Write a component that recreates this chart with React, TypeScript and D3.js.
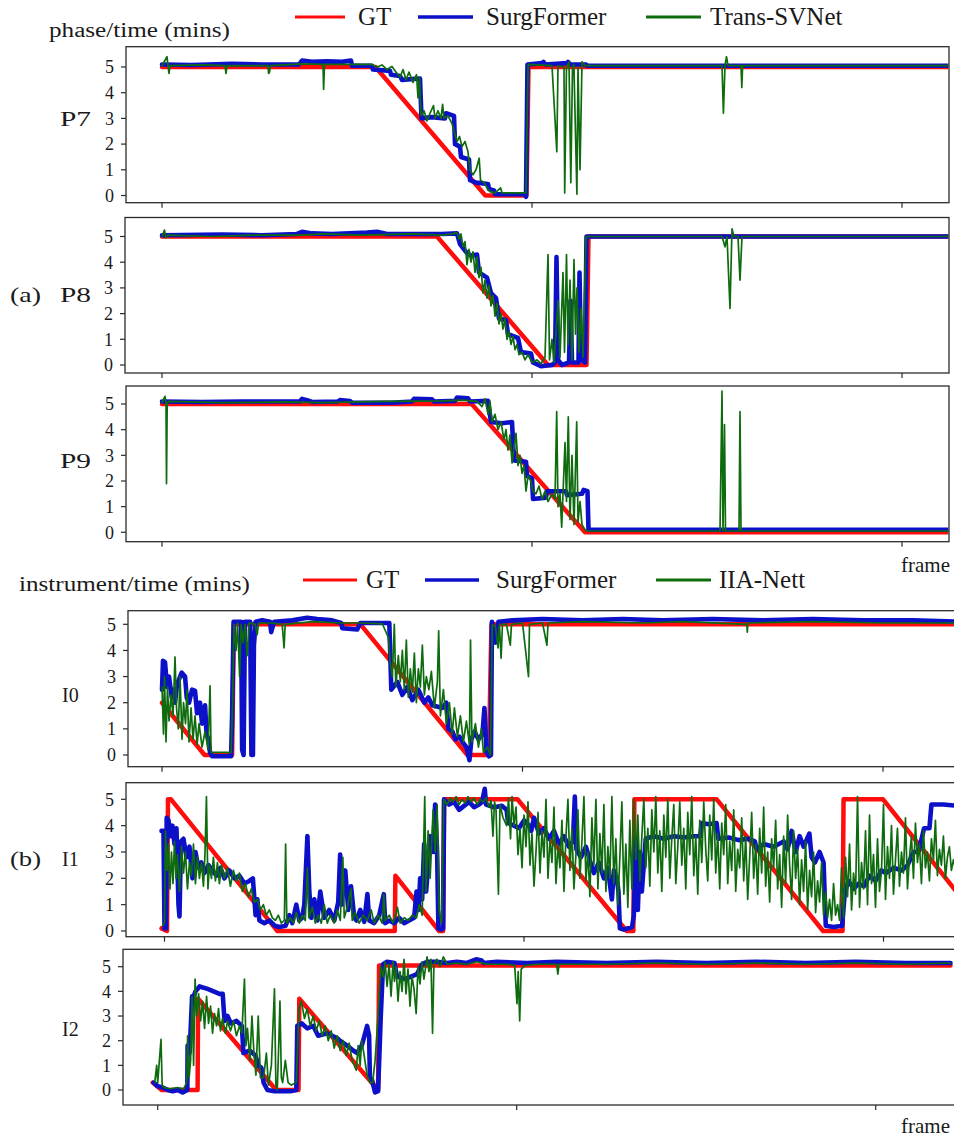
import React from 'react';
import * as d3 from 'd3';

type Pt = [number, number];

// x = frame index, y = remaining time (mins)
// ---------- (a) phase ----------
const gtP7: Pt[] = [[0, 5], [2135, 5], [3233, 0], [3645, 0], [3665, 5], [7870, 5]];
const sfP7: Pt[] = [[0, 5.1], [300, 5.08], [700, 5.12], [1000, 5.1], [1370, 5.1], [1400, 5.25], [1500, 5.2], [1650, 5.22], [1800, 5.2], [1890, 5.25], [1900, 5.05], [2100, 5.05], [2110, 4.9], [2280, 4.85], [2290, 4.7], [2380, 4.65], [2400, 4.5], [2580, 4.55], [2595, 3.0], [2700, 3.05], [2830, 3.0], [2840, 3.2], [2920, 3.1], [2930, 2.0], [2980, 1.9], [2990, 1.5], [3070, 1.4], [3080, 0.6], [3140, 0.5], [3260, 0.45], [3270, 0.25], [3320, 0.2], [3330, 0.05], [3630, 0.05], [3640, -0.05], [3655, 5.1], [3800, 5.15], [3815, 5.2], [3830, 5.1], [4050, 5.15], [4060, 5.2], [4080, 5.1], [4240, 5.1], [4250, 5.05], [7870, 5.05]];
const tsP7: Pt[] = [[0, 5.05], [50, 5.4], [60, 5.05], [70, 4.75], [80, 5.05], [400, 5.08], [630, 5.05], [640, 4.75], [650, 5.05], [1060, 5.05], [1066, 4.75], [1075, 4.8], [1085, 5.05], [1400, 5.12], [1610, 5.1], [1616, 4.13], [1625, 5.1], [1900, 5.1], [2100, 5.1], [2150, 5.0], [2200, 5.08], [2250, 4.9], [2300, 5.02], [2340, 4.8], [2380, 4.6], [2410, 4.9], [2440, 4.5], [2470, 4.8], [2510, 4.4], [2545, 4.7], [2560, 3.8], [2575, 4.6], [2590, 3.1], [2620, 3.3], [2650, 2.9], [2680, 3.2], [2715, 3.5], [2730, 3.0], [2760, 3.3], [2790, 3.0], [2806, 3.55], [2820, 3.0], [2860, 3.1], [2900, 2.8], [2928, 2.4], [2950, 2.1], [2975, 2.3], [3000, 1.9], [3030, 2.1], [3060, 1.7], [3080, 1.0], [3110, 0.8], [3140, 1.0], [3172, 1.45], [3185, 0.6], [3220, 0.5], [3250, 0.3], [3280, 0.15], [3330, 0.1], [3386, 0.3], [3400, 0.1], [3640, 0.1], [3661, 5.1], [3900, 5.05], [3948, 1.7], [3960, 5.05], [4020, 5.0], [4027, 0.1], [4045, 5.0], [4070, 5.2], [4088, 0.5], [4105, 5.0], [4119, 5.1], [4149, 0.05], [4160, 5.0], [4180, 1.0], [4200, 5.2], [4230, 5.05], [5600, 5.05], [5614, 3.2], [5630, 5.05], [5645, 5.4], [5660, 5.05], [5790, 5.05], [5798, 4.2], [5806, 5.05], [7870, 5.05]];

const gtP8: Pt[] = [[0, 5], [2750, 5], [3860, 0], [4245, 0], [4265, 5], [7870, 5]];
const sfP8: Pt[] = [[0, 5.05], [600, 5.08], [1000, 5.05], [1350, 5.1], [1400, 5.18], [1500, 5.12], [1700, 5.1], [2050, 5.15], [2150, 5.18], [2250, 5.1], [2800, 5.1], [2950, 5.12], [2980, 4.7], [3040, 4.4], [3090, 4.25], [3150, 4.3], [3170, 3.6], [3250, 3.4], [3290, 2.8], [3340, 2.6], [3370, 1.8], [3440, 1.75], [3460, 1.2], [3560, 1.05], [3590, 0.5], [3690, 0.45], [3710, 0.1], [3790, -0.05], [3900, 0.0], [3930, 0.1], [3945, 4.2], [3960, 0.2], [4000, 0.0], [4070, 0.1], [4085, 2.5], [4100, 0.1], [4165, 0.1], [4175, 3.6], [4190, 0.2], [4230, 0.1], [4245, 5.0], [7870, 5.0]];
const tsP8: Pt[] = [[0, 5.0], [25, 5.25], [40, 4.95], [60, 5.05], [500, 5.0], [900, 5.05], [1400, 5.05], [1600, 5.1], [2000, 5.05], [2500, 5.1], [2800, 5.05], [2900, 5.1], [2950, 5.15], [2970, 4.9], [2990, 5.1], [3010, 4.6], [3030, 4.8], [3050, 3.9], [3070, 4.5], [3090, 4.0], [3110, 4.4], [3130, 3.6], [3150, 4.2], [3170, 3.4], [3190, 3.8], [3210, 2.8], [3230, 3.3], [3250, 2.6], [3270, 3.1], [3290, 2.3], [3310, 2.7], [3330, 1.9], [3350, 2.4], [3370, 1.6], [3390, 2.0], [3410, 1.4], [3430, 1.8], [3450, 1.0], [3470, 1.3], [3490, 0.8], [3510, 1.1], [3530, 0.6], [3550, 0.8], [3570, 0.4], [3600, 0.5], [3630, 0.2], [3660, 0.4], [3700, 0.1], [3750, 0.2], [3790, 0.05], [3830, 0.3], [3860, 4.3], [3875, 0.2], [3900, 1.0], [3920, 0.1], [3960, 2.5], [3980, 0.3], [4010, 3.6], [4025, 0.5], [4045, 4.3], [4060, 0.8], [4080, 3.3], [4100, 0.2], [4120, 4.1], [4135, 1.2], [4150, 3.0], [4170, 0.5], [4190, 2.2], [4210, 0.3], [4240, 5.0], [5600, 5.0], [5630, 4.6], [5650, 5.0], [5680, 2.2], [5700, 5.3], [5720, 5.0], [5760, 5.0], [5780, 3.3], [5800, 5.0], [7870, 5.0]];

const gtP9: Pt[] = [[0, 5], [3097, 5], [4230, 0], [7870, 0]];
const sfP9: Pt[] = [[0, 5.1], [400, 5.08], [800, 5.1], [1380, 5.1], [1400, 5.2], [1450, 5.15], [1500, 5.08], [1760, 5.1], [1780, 5.15], [1880, 5.12], [1900, 5.05], [2300, 5.05], [2500, 5.1], [2520, 5.2], [2700, 5.18], [2720, 5.1], [2930, 5.12], [2950, 5.25], [3060, 5.22], [3080, 5.1], [3260, 5.12], [3290, 4.3], [3400, 4.25], [3500, 4.3], [3520, 2.8], [3640, 2.75], [3650, 2.2], [3700, 2.1], [3710, 1.3], [3840, 1.35], [3850, 1.6], [4040, 1.6], [4050, 1.45], [4200, 1.5], [4215, 1.65], [4255, 1.6], [4265, 0.1], [7870, 0.1]];
const tsP9: Pt[] = [[0, 5.05], [30, 5.3], [40, 5.05], [45, 1.9], [52, 5.05], [70, 5.1], [600, 5.05], [1200, 5.08], [1600, 5.05], [2200, 5.1], [2800, 5.12], [3000, 5.15], [3150, 5.1], [3200, 4.9], [3230, 5.2], [3260, 4.6], [3280, 5.1], [3300, 4.3], [3330, 4.6], [3360, 4.0], [3390, 4.3], [3420, 3.6], [3440, 4.0], [3460, 3.2], [3480, 3.8], [3500, 2.7], [3520, 3.3], [3540, 3.86], [3560, 2.6], [3580, 3.0], [3600, 2.3], [3620, 2.6], [3640, 1.6], [3660, 2.2], [3690, 2.0], [3710, 1.6], [3740, 1.5], [3770, 1.8], [3800, 1.3], [3830, 1.6], [3860, 1.2], [3900, 1.5], [3930, 1.3], [3947, 4.7], [3960, 1.0], [3980, 1.5], [3997, 0.2], [4015, 2.0], [4030, 3.5], [4045, 1.2], [4063, 4.5], [4080, 0.5], [4100, 3.0], [4120, 0.3], [4147, 4.3], [4160, 0.4], [4180, 1.2], [4200, 0.3], [4230, 0.1], [4260, 0.05], [5580, 0.05], [5600, 5.5], [5610, 0.05], [5625, 4.2], [5635, 0.05], [5770, 0.05], [5780, 4.7], [5790, 0.05], [7870, 0.05]];

// ---------- (b) instrument ----------
const gtI0: Pt[] = [[0, 2], [425, 0], [700, 0], [718, 5], [1982, 5], [3050, 0], [3264, 0], [3290, 5], [7950, 5]];
const sfI0: Pt[] = [[0, 2.5], [10, 3.6], [30, 3.55], [50, 2.6], [70, 3.0], [97, 2.2], [115, 2.5], [130, 2.0], [150, 2.7], [197, 3.15], [230, 3.0], [247, 2.2], [270, 2.0], [300, 2.5], [330, 2.45], [350, 1.6], [380, 2.0], [400, 1.2], [430, 1.9], [445, 0.8], [463, 0.6], [480, 0.1], [500, -0.05], [690, -0.05], [700, 1.5], [715, 5.1], [790, 5.1], [800, 0.2], [815, 0.0], [828, 5.1], [880, 5.1], [893, 0.0], [908, 0.0], [918, 4.2], [935, 5.1], [1000, 5.15], [1080, 5.1], [1090, 4.7], [1120, 5.1], [1300, 5.15], [1450, 5.25], [1550, 5.2], [1700, 5.15], [1790, 5.05], [1800, 4.85], [1950, 4.8], [1980, 5.05], [2270, 5.05], [2290, 2.5], [2350, 2.8], [2400, 2.3], [2450, 2.6], [2500, 2.1], [2560, 2.5], [2620, 2.0], [2660, 2.2], [2700, 1.9], [2800, 1.8], [2840, 2.0], [2860, 1.0], [2900, 0.9], [2930, 0.6], [2970, 0.7], [3000, 0.5], [3040, 0.3], [3070, -0.2], [3090, 0.6], [3120, 0.9], [3160, 0.6], [3200, 0.8], [3220, 1.8], [3240, 0.1], [3265, -0.05], [3285, 0.0], [3295, 5.1], [3330, 4.3], [3360, 5.1], [3500, 5.15], [3800, 5.2], [4200, 5.15], [4600, 5.2], [5000, 5.15], [5500, 5.2], [6000, 5.15], [6500, 5.2], [7000, 5.15], [7500, 5.15], [7950, 5.1]];
const iaI0: Pt[] = [[0, 2.6], [15, 0.8], [25, 3.0], [40, 0.5], [55, 2.6], [70, 1.3], [90, 2.3], [110, 1.5], [130, 3.75], [145, 1.8], [163, 1.0], [180, 3.0], [200, 0.6], [215, 2.0], [235, 1.2], [250, 2.5], [270, 0.5], [290, 1.8], [310, 0.6], [330, 1.5], [350, 0.4], [370, 1.2], [400, 0.3], [430, 0.9], [460, 0.2], [480, 2.65], [490, 0.1], [520, 0.1], [690, 0.1], [705, 2.0], [718, 5.0], [740, 4.0], [755, 5.05], [775, 3.0], [790, 5.0], [810, 4.3], [830, 5.0], [850, 3.8], [870, 5.05], [930, 5.0], [950, 4.6], [965, 5.05], [1100, 5.05], [1200, 5.0], [1219, 4.1], [1230, 5.0], [1500, 5.1], [1800, 5.05], [2000, 5.05], [2200, 5.02], [2260, 4.5], [2280, 3.5], [2300, 3.0], [2320, 5.0], [2335, 2.6], [2360, 3.8], [2380, 2.8], [2400, 4.0], [2420, 2.5], [2440, 4.4], [2460, 2.2], [2480, 3.3], [2500, 2.4], [2520, 3.9], [2540, 2.0], [2560, 3.3], [2580, 2.6], [2600, 4.2], [2620, 2.3], [2640, 3.0], [2665, 2.5], [2690, 3.2], [2720, 1.8], [2750, 2.8], [2763, 4.75], [2780, 1.5], [2810, 2.5], [2840, 1.2], [2870, 2.0], [2898, 0.8], [2920, 1.8], [2950, 0.7], [2980, 1.5], [3010, 0.5], [3040, 1.3], [3070, 0.4], [3081, 4.4], [3095, 0.5], [3130, 1.2], [3160, 0.3], [3190, 1.0], [3210, 0.1], [3250, 0.3], [3280, 0.0], [3298, 5.0], [3330, 4.9], [3356, 4.1], [3370, 5.0], [3386, 3.7], [3400, 5.0], [3440, 5.0], [3478, 4.2], [3490, 5.0], [3600, 5.05], [3660, 3.0], [3670, 5.0], [3800, 5.05], [3844, 4.2], [3855, 5.05], [4200, 5.1], [4800, 5.05], [5200, 5.1], [5840, 5.0], [5845, 4.7], [5850, 5.05], [6500, 5.1], [7200, 5.05], [7950, 5.05]];

const gtI1: Pt[] = [[-30, 0.1], [25, 0], [35, 5], [65, 5], [1131, 0], [2306, 0], [2312, 2.1], [2750, 0], [2790, 0], [2800, 5], [3535, 5], [4628, 0], [4695, 0], [4705, 5], [5530, 5], [6595, 0], [6790, 0], [6800, 5], [7196, 5], [7950, 1.4]];
const sfI1: Pt[] = [[-30, 3.8], [-10, 3.8], [0, 0.1], [15, 0.1], [22, 4.3], [40, 4.2], [60, 3.6], [80, 4.0], [100, 3.3], [120, 3.9], [140, 1.0], [150, 0.55], [165, 3.4], [190, 3.5], [220, 2.8], [250, 3.2], [280, 2.0], [310, 3.0], [340, 2.4], [370, 2.6], [400, 2.2], [440, 2.5], [480, 2.3], [520, 2.1], [560, 2.4], [600, 2.0], [650, 2.3], [700, 2.0], [750, 2.1], [800, 1.8], [850, 1.9], [885, 2.0], [912, 0.6], [930, 1.2], [950, 0.4], [1000, 0.3], [1050, 0.4], [1103, 0.2], [1150, 0.15], [1213, 0.2], [1250, 0.6], [1280, 0.3], [1320, 1.0], [1350, 0.4], [1377, 0.5], [1400, 1.0], [1431, 3.6], [1450, 1.5], [1470, 0.5], [1500, 1.2], [1530, 0.4], [1560, 1.5], [1600, 0.5], [1650, 0.8], [1700, 0.4], [1740, 1.1], [1759, 2.9], [1775, 1.0], [1786, 1.5], [1810, 2.3], [1840, 0.8], [1868, 1.7], [1900, 0.5], [1923, 0.4], [1960, 0.8], [2000, 0.35], [2032, 1.4], [2050, 0.4], [2100, 0.3], [2150, 0.6], [2196, 1.4], [2210, 0.3], [2250, 0.4], [2300, 0.3], [2350, 0.5], [2400, 0.3], [2450, 0.4], [2500, 0.5], [2524, 1.5], [2545, 0.8], [2560, 2.0], [2580, 1.2], [2600, 3.3], [2620, 1.5], [2640, 2.5], [2661, 3.6], [2690, 3.0], [2710, 4.8], [2730, 3.0], [2743, 0.1], [2770, 0.05], [2790, 0.1], [2800, 5.0], [2850, 4.8], [2900, 4.9], [2950, 4.6], [3000, 4.75], [3050, 4.9], [3100, 4.7], [3150, 4.8], [3180, 4.9], [3207, 5.4], [3220, 4.8], [3300, 4.7], [3380, 4.75], [3426, 4.6], [3440, 4.1], [3500, 4.0], [3550, 3.9], [3600, 4.2], [3650, 4.0], [3672, 3.8], [3700, 4.3], [3750, 3.7], [3800, 3.9], [3850, 3.5], [3900, 3.8], [3950, 3.3], [4000, 3.6], [4050, 3.2], [4090, 3.4], [4109, 5.1], [4125, 3.1], [4170, 2.8], [4220, 3.2], [4273, 2.5], [4300, 2.2], [4350, 2.6], [4400, 2.0], [4440, 2.4], [4480, 1.2], [4500, 2.3], [4530, 2.0], [4546, 1.5], [4560, 0.1], [4600, 0.05], [4682, 0.15], [4700, 0.6], [4720, 3.5], [4740, 0.8], [4760, 3.0], [4780, 1.5], [4819, 3.5], [4900, 3.6], [5000, 3.5], [5100, 3.6], [5200, 3.55], [5300, 3.6], [5365, 3.6], [5380, 4.1], [5450, 4.05], [5529, 4.1], [5545, 3.5], [5650, 3.55], [5750, 3.45], [5850, 3.5], [5912, 3.4], [5930, 3.1], [6000, 3.3], [6100, 3.2], [6200, 3.4], [6240, 3.1], [6280, 3.8], [6320, 3.0], [6360, 3.6], [6400, 3.2], [6458, 3.7], [6480, 2.8], [6513, 2.6], [6560, 3.0], [6600, 2.6], [6622, 0.2], [6700, 0.15], [6786, 0.2], [6813, 1.5], [6850, 1.9], [6900, 1.6], [6950, 1.8], [7004, 1.7], [7060, 2.1], [7120, 1.9], [7180, 2.3], [7223, 2.2], [7300, 2.4], [7380, 2.3], [7442, 2.5], [7500, 3.0], [7551, 3.0], [7606, 3.9], [7660, 3.9], [7680, 4.8], [7800, 4.8], [7950, 4.75]];
const iaI1: Pt[] = [[-20, 0.2], [0, 0.3], [10, 3.8], [25, 2.3], [40, 3.3], [55, 1.6], [70, 3.0], [85, 1.8], [100, 3.4], [115, 2.0], [130, 2.9], [150, 1.5], [170, 3.2], [190, 2.2], [210, 3.0], [230, 1.6], [250, 2.6], [270, 2.1], [290, 3.3], [310, 1.8], [330, 2.8], [350, 2.0], [370, 2.6], [390, 1.7], [405, 2.9], [420, 5.1], [435, 1.6], [450, 2.5], [470, 2.0], [490, 2.8], [510, 1.9], [530, 2.6], [550, 1.8], [570, 2.5], [600, 2.0], [630, 2.4], [660, 1.7], [690, 2.3], [720, 1.9], [750, 2.2], [780, 1.5], [810, 1.8], [840, 1.3], [870, 1.6], [900, 1.1], [930, 1.2], [960, 0.8], [990, 1.0], [1020, 0.6], [1050, 0.8], [1080, 0.5], [1110, 0.4], [1140, 0.6], [1170, 0.3], [1200, 0.4], [1213, 3.3], [1225, 0.3], [1260, 0.5], [1290, 0.3], [1320, 0.7], [1350, 0.3], [1380, 0.6], [1410, 0.4], [1431, 2.4], [1445, 0.5], [1480, 0.9], [1510, 0.3], [1540, 0.6], [1570, 0.3], [1600, 1.0], [1630, 0.3], [1660, 0.6], [1700, 0.3], [1730, 0.8], [1760, 0.4], [1786, 2.8], [1800, 0.5], [1830, 0.9], [1868, 1.6], [1880, 0.4], [1910, 0.7], [1950, 0.3], [1990, 0.6], [2030, 0.4], [2070, 0.8], [2100, 0.3], [2140, 0.6], [2180, 0.3], [2196, 1.4], [2210, 0.4], [2250, 0.6], [2290, 0.3], [2333, 0.9], [2360, 0.3], [2400, 0.5], [2440, 0.4], [2480, 0.6], [2524, 0.5], [2550, 1.0], [2580, 0.6], [2606, 5.1], [2620, 1.5], [2640, 3.8], [2660, 2.0], [2690, 4.6], [2710, 3.0], [2730, 4.8], [2750, 0.8], [2775, 0.3], [2797, 5.0], [2830, 4.8], [2860, 5.05], [2890, 4.9], [2920, 5.1], [2950, 4.8], [2980, 5.0], [3010, 4.85], [3040, 5.1], [3070, 4.9], [3100, 5.05], [3130, 4.8], [3160, 5.0], [3190, 4.9], [3220, 5.05], [3250, 4.7], [3270, 4.95], [3289, 3.6], [3305, 4.9], [3320, 4.6], [3344, 1.4], [3360, 4.8], [3390, 4.3], [3426, 4.0], [3445, 5.05], [3465, 3.5], [3480, 5.1], [3500, 4.0], [3520, 4.7], [3540, 2.9], [3560, 3.9], [3580, 2.4], [3600, 4.4], [3620, 3.2], [3640, 4.9], [3660, 2.5], [3680, 3.7], [3700, 1.7], [3720, 3.0], [3740, 4.5], [3760, 2.2], [3780, 3.8], [3800, 2.8], [3820, 5.0], [3840, 2.0], [3860, 3.5], [3880, 2.6], [3900, 4.7], [3920, 1.8], [3940, 3.3], [3960, 2.4], [3980, 4.2], [4000, 1.5], [4020, 3.6], [4040, 5.0], [4060, 2.3], [4080, 3.9], [4100, 1.6], [4120, 2.9], [4140, 4.6], [4160, 2.0], [4180, 3.4], [4200, 5.1], [4220, 1.9], [4240, 3.0], [4260, 1.3], [4280, 4.3], [4300, 2.5], [4320, 5.0], [4340, 1.6], [4360, 3.7], [4380, 2.2], [4400, 4.8], [4420, 1.5], [4440, 3.2], [4460, 2.0], [4480, 5.1], [4500, 1.8], [4520, 3.5], [4540, 1.0], [4560, 2.8], [4580, 4.9], [4600, 1.4], [4620, 3.3], [4640, 0.9], [4660, 4.2], [4680, 1.6], [4700, 5.0], [4720, 2.7], [4740, 4.4], [4760, 1.9], [4780, 3.6], [4800, 5.0], [4820, 2.4], [4840, 3.9], [4860, 1.7], [4880, 4.6], [4900, 3.0], [4920, 5.1], [4940, 2.2], [4960, 3.8], [4980, 1.5], [5000, 4.4], [5020, 2.8], [5040, 5.0], [5060, 2.0], [5080, 3.5], [5100, 4.8], [5120, 1.8], [5140, 3.2], [5160, 4.9], [5180, 2.5], [5200, 3.9], [5220, 1.6], [5240, 4.5], [5260, 2.9], [5280, 5.1], [5300, 2.1], [5320, 3.6], [5340, 1.4], [5360, 4.2], [5380, 2.6], [5400, 4.9], [5420, 3.1], [5440, 1.9], [5460, 4.4], [5480, 2.7], [5500, 5.0], [5520, 2.2], [5540, 3.7], [5560, 1.6], [5580, 4.1], [5600, 2.9], [5620, 4.8], [5640, 1.8], [5660, 3.4], [5680, 2.3], [5700, 4.6], [5720, 1.5], [5740, 3.1], [5760, 2.4], [5780, 4.3], [5800, 1.9], [5820, 3.6], [5840, 1.2], [5860, 2.8], [5880, 4.5], [5900, 2.0], [5920, 3.3], [5940, 1.4], [5960, 3.9], [5980, 2.2], [6000, 4.7], [6020, 1.7], [6040, 3.0], [6060, 1.1], [6080, 3.5], [6100, 2.4], [6120, 4.2], [6140, 1.6], [6160, 2.9], [6180, 0.9], [6200, 3.6], [6220, 1.8], [6240, 4.4], [6260, 2.5], [6280, 1.2], [6300, 3.8], [6320, 2.0], [6340, 3.1], [6360, 1.0], [6380, 2.7], [6400, 1.5], [6420, 3.4], [6440, 0.8], [6460, 2.3], [6480, 1.3], [6500, 3.0], [6520, 0.7], [6540, 1.9], [6560, 1.1], [6580, 2.6], [6600, 0.6], [6620, 1.5], [6640, 0.5], [6660, 1.2], [6680, 0.4], [6700, 1.8], [6720, 0.6], [6740, 1.0], [6760, 0.4], [6780, 2.4], [6800, 0.5], [6820, 2.8], [6840, 1.3], [6860, 3.3], [6880, 0.8], [6900, 2.2], [6920, 1.4], [6940, 5.1], [6960, 0.9], [6980, 2.6], [7000, 1.6], [7020, 3.8], [7040, 1.0], [7060, 4.4], [7080, 1.8], [7100, 2.9], [7120, 0.9], [7140, 3.5], [7160, 1.5], [7180, 2.3], [7200, 4.8], [7220, 1.2], [7240, 3.2], [7260, 2.0], [7280, 4.0], [7300, 1.4], [7320, 2.7], [7340, 3.9], [7360, 1.7], [7380, 3.0], [7400, 2.2], [7420, 4.3], [7440, 1.6], [7460, 2.8], [7480, 3.6], [7500, 2.0], [7520, 4.1], [7540, 2.6], [7560, 3.3], [7580, 1.8], [7600, 3.8], [7620, 2.4], [7640, 3.0], [7660, 1.9], [7680, 3.5], [7700, 2.7], [7720, 4.2], [7740, 2.1], [7760, 3.1], [7780, 2.5], [7800, 3.6], [7820, 2.0], [7840, 2.8], [7860, 3.2], [7880, 2.3], [7900, 2.7], [7920, 2.4], [7950, 2.6]];

const gtI2: Pt[] = [[-50, 0.3], [40, 0], [400, 0], [405, 3.7], [1188, 0], [1412, 0], [1420, 3.7], [2210, 0], [2220, 5.05], [7950, 5.05]];
const sfI2: Pt[] = [[-40, 0.3], [0, 0.15], [50, 0.1], [100, 0.0], [150, -0.05], [200, 0.0], [250, -0.1], [297, 0.0], [300, 1.8], [320, 1.5], [345, 3.8], [352, 3.7], [379, 4.0], [420, 4.2], [500, 4.1], [560, 4.0], [620, 3.9], [652, 3.9], [670, 2.8], [700, 3.0], [734, 2.7], [790, 2.8], [844, 2.6], [860, 1.5], [920, 1.6], [980, 1.4], [1008, 1.0], [1040, 0.9], [1062, 0.3], [1100, 0.0], [1171, -0.05], [1250, -0.05], [1330, -0.05], [1390, 0.0], [1400, 2.6], [1445, 2.7], [1500, 2.5], [1560, 2.6], [1609, 2.2], [1700, 2.3], [1800, 2.1], [1827, 2.0], [1900, 1.8], [1960, 1.6], [2000, 1.5], [2046, 1.8], [2080, 2.3], [2100, 2.6], [2120, 2.2], [2128, 0.5], [2150, 0.4], [2180, -0.1], [2210, -0.05], [2237, 3.0], [2260, 5.1], [2300, 5.2], [2374, 5.15], [2400, 4.6], [2480, 4.5], [2540, 4.6], [2600, 4.7], [2650, 5.1], [2701, 5.2], [2800, 5.2], [2900, 5.15], [3000, 5.2], [3100, 5.15], [3193, 5.3], [3248, 5.25], [3270, 5.15], [3400, 5.2], [3700, 5.15], [4000, 5.2], [4500, 5.15], [5000, 5.2], [5500, 5.15], [6000, 5.2], [6500, 5.15], [7000, 5.2], [7500, 5.15], [7950, 5.15]];
const iaI2: Pt[] = [[-30, 0.3], [-10, 1.0], [0, 0.3], [15, 1.1], [33, 2.05], [45, 0.2], [60, 0.1], [120, 0.05], [200, 0.1], [260, 0.05], [290, 0.3], [300, 2.2], [315, 0.5], [330, 1.2], [345, 3.8], [360, 1.0], [375, 4.5], [390, 3.0], [410, 3.9], [430, 2.8], [450, 3.6], [470, 2.5], [490, 3.8], [510, 2.7], [530, 3.4], [550, 2.3], [570, 3.1], [590, 2.6], [610, 3.3], [630, 2.4], [650, 2.9], [680, 2.3], [700, 2.8], [730, 2.4], [760, 2.8], [790, 2.2], [820, 2.6], [844, 2.3], [870, 4.5], [885, 1.8], [900, 2.5], [925, 1.2], [945, 3.0], [965, 1.5], [985, 0.6], [1008, 3.0], [1030, 0.5], [1062, 0.5], [1090, 1.5], [1110, 0.2], [1140, 1.0], [1171, 4.1], [1185, 0.2], [1199, 0.0], [1215, 2.0], [1226, 3.6], [1240, 0.5], [1253, 0.3], [1280, 1.2], [1308, 0.3], [1340, 0.2], [1390, 0.3], [1405, 2.0], [1417, 3.3], [1440, 3.6], [1472, 2.9], [1499, 3.3], [1530, 2.6], [1560, 3.0], [1590, 2.4], [1620, 2.8], [1650, 2.2], [1680, 2.6], [1710, 2.0], [1740, 2.4], [1770, 1.7], [1800, 2.2], [1830, 1.6], [1860, 2.0], [1890, 1.4], [1920, 1.9], [1950, 1.2], [1991, 0.8], [2010, 1.8], [2030, 1.0], [2046, 2.0], [2070, 1.4], [2100, 0.6], [2130, 0.3], [2155, 0.3], [2180, 1.2], [2210, 3.0], [2237, 5.0], [2260, 4.6], [2280, 5.2], [2300, 4.2], [2320, 5.1], [2340, 3.8], [2360, 5.2], [2374, 4.4], [2390, 5.0], [2410, 3.6], [2430, 4.8], [2450, 4.0], [2470, 5.3], [2490, 3.9], [2510, 4.9], [2530, 3.4], [2550, 4.6], [2570, 4.1], [2592, 3.1], [2610, 5.0], [2630, 4.3], [2650, 5.2], [2670, 4.5], [2701, 5.4], [2720, 4.8], [2740, 5.3], [2756, 2.3], [2770, 5.1], [2800, 5.3], [2830, 5.0], [2865, 5.4], [2900, 5.1], [3000, 5.15], [3100, 5.1], [3200, 5.2], [3300, 5.1], [3500, 5.1], [3580, 5.05], [3603, 3.5], [3615, 4.8], [3630, 2.8], [3645, 4.9], [3685, 5.05], [3800, 5.1], [4000, 5.1], [4013, 4.7], [4025, 5.1], [4500, 5.1], [5000, 5.15], [5500, 5.1], [6000, 5.15], [6500, 5.1], [7000, 5.15], [7500, 5.1], [7950, 5.15]];

const yTickValues = [0, 1, 2, 3, 4, 5];
const topFrameTicks = [0, 3700, 7400];
const bottomFrameTicks = [0, 3600, 7200];

const FONT = '"Liberation Serif", "Times New Roman", serif';
const RED = '#ff0d0d';
const BLUE = '#0c10c8';
const GREEN = '#0e6c0e';
const INK = '#1a1a1a';

const panels = [
  { id: 'P7', top: 46.7, bottom: 202.7, left: 126, right: 949, x0: 162, span: 740, ticks: topFrameTicks, y5: 67, y0: 195.5, labelY: 126, gt: gtP7, sf: sfP7, other: tsP7 },
  { id: 'P8', top: 217.5, bottom: 373, left: 125, right: 949, x0: 162, span: 740, ticks: topFrameTicks, y5: 236.5, y0: 365, labelY: 302, gt: gtP8, sf: sfP8, other: tsP8 },
  { id: 'P9', top: 386, bottom: 541.7, left: 126, right: 949, x0: 162, span: 740, ticks: topFrameTicks, y5: 404, y0: 532.3, labelY: 468, gt: gtP9, sf: sfP9, other: tsP9 },
  { id: 'I0', top: 610.7, bottom: 766.7, left: 128, right: 962, x0: 162, span: 721, ticks: bottomFrameTicks, y5: 624.3, y0: 755, labelY: 702, gt: gtI0, sf: sfI0, other: iaI0 },
  { id: 'I1', top: 782.7, bottom: 936.7, left: 126, right: 962, x0: 164.5, span: 719, ticks: bottomFrameTicks, y5: 799.3, y0: 931, labelY: 866, gt: gtI1, sf: sfI1, other: iaI1 },
  { id: 'I2', top: 949.3, bottom: 1105, left: 123, right: 962, x0: 157.7, span: 718, ticks: bottomFrameTicks, y5: 966.7, y0: 1090, labelY: 1036, gt: gtI2, sf: sfI2, other: iaI2 },
];

function Panel({ p }: { p: typeof panels[number] }) {
  const x = d3.scaleLinear().domain([p.ticks[0], p.ticks[2]]).range([p.x0, p.x0 + p.span]);
  const y = d3.scaleLinear().domain([0, 5]).range([p.y0, p.y5]);
  const line = d3.line<Pt>().x(d => x(d[0])).y(d => y(d[1]));
  const clipId = `clip-${p.id}`;
  const isP = p.id.startsWith('P');
  return (
    <g>
      <clipPath id={clipId}>
        <rect x={p.left + 0.7} y={p.top + 0.7} width={p.right - p.left - 1.4} height={p.bottom - p.top - 1.4} />
      </clipPath>
      <g clipPath={`url(#${clipId})`} fill="none" strokeLinejoin="round" strokeLinecap="round">
        <path d={line(p.gt) || ''} stroke={RED} strokeWidth={4.5} />
        <path d={line(p.sf) || ''} stroke={BLUE} strokeWidth={4.6} />
        <path d={line(p.other) || ''} stroke={GREEN} strokeWidth={1.7} />
      </g>
      <rect x={p.left} y={p.top} width={p.right - p.left} height={p.bottom - p.top} fill="none" stroke="#2b2b2b" strokeWidth={1.3} />
      {yTickValues.map(v => (
        <g key={v}>
          <line x1={p.left - 5} x2={p.left} y1={y(v)} y2={y(v)} stroke="#2b2b2b" strokeWidth={1.2} />
          <text x={p.left - 12} y={y(v)} dy="0.35em" textAnchor="end" fontSize={18} fontFamily={FONT} fill={INK}>{v}</text>
        </g>
      ))}
      {p.ticks.map(t => (
        <line key={t} x1={x(t)} x2={x(t)} y1={p.bottom} y2={p.bottom + 5} stroke="#2b2b2b" strokeWidth={1.2} />
      ))}
      <text x={isP ? 60 : 62} y={p.labelY} fontSize={20} fontFamily={FONT} fill={INK}
        {...(isP ? { textLength: 31, lengthAdjust: 'spacingAndGlyphs' } : {})}>{p.id}</text>
    </g>
  );
}

function Legend({ y, names, lines, texts }: { y: number; names: string[]; lines: [number, number][]; texts: number[] }) {
  const colors = [RED, BLUE, GREEN];
  const widths = [3, 3.5, 3];
  return (
    <g>
      {names.map((n, i) => (
        <g key={n}>
          <line x1={lines[i][0]} x2={lines[i][1]} y1={y} y2={y} stroke={colors[i]} strokeWidth={widths[i]} />
          <text x={texts[i]} y={y + 8} fontSize={25} fontFamily={FONT} fill={INK}>{n}</text>
        </g>
      ))}
    </g>
  );
}

export default function App() {
  return (
    <svg width={954} height={1140} style={{ position: 'absolute', left: 0, top: 0, background: '#fff' }}>
      <text x={49} y={37} fontSize={20} fontFamily={FONT} fill={INK} textLength={181} lengthAdjust="spacingAndGlyphs">phase/time (mins)</text>
      <Legend y={17} names={['GT', 'SurgFormer', 'Trans-SVNet']} lines={[[295, 345], [418, 473], [646, 701]]} texts={[358, 486, 710]} />
      <text x={19} y={591} fontSize={20} fontFamily={FONT} fill={INK} textLength={231} lengthAdjust="spacingAndGlyphs">instrument/time (mins)</text>
      <Legend y={580} names={['GT', 'SurgFormer', 'IIA-Nett']} lines={[[303, 357], [425, 479], [656, 711]]} texts={[366, 496, 719]} />
      {panels.map(p => <Panel key={p.id} p={p} />)}
      <text x={10} y={302} fontSize={21} fontFamily={FONT} fill={INK} textLength={31} lengthAdjust="spacingAndGlyphs">(a)</text>
      <text x={10} y={866} fontSize={21} fontFamily={FONT} fill={INK} textLength={31} lengthAdjust="spacingAndGlyphs">(b)</text>
      <text x={950} y={572} textAnchor="end" fontSize={21} fontFamily={FONT} fill={INK}>frame</text>
      <text x={950} y={1133} textAnchor="end" fontSize={21} fontFamily={FONT} fill={INK}>frame</text>
    </svg>
  );
}
